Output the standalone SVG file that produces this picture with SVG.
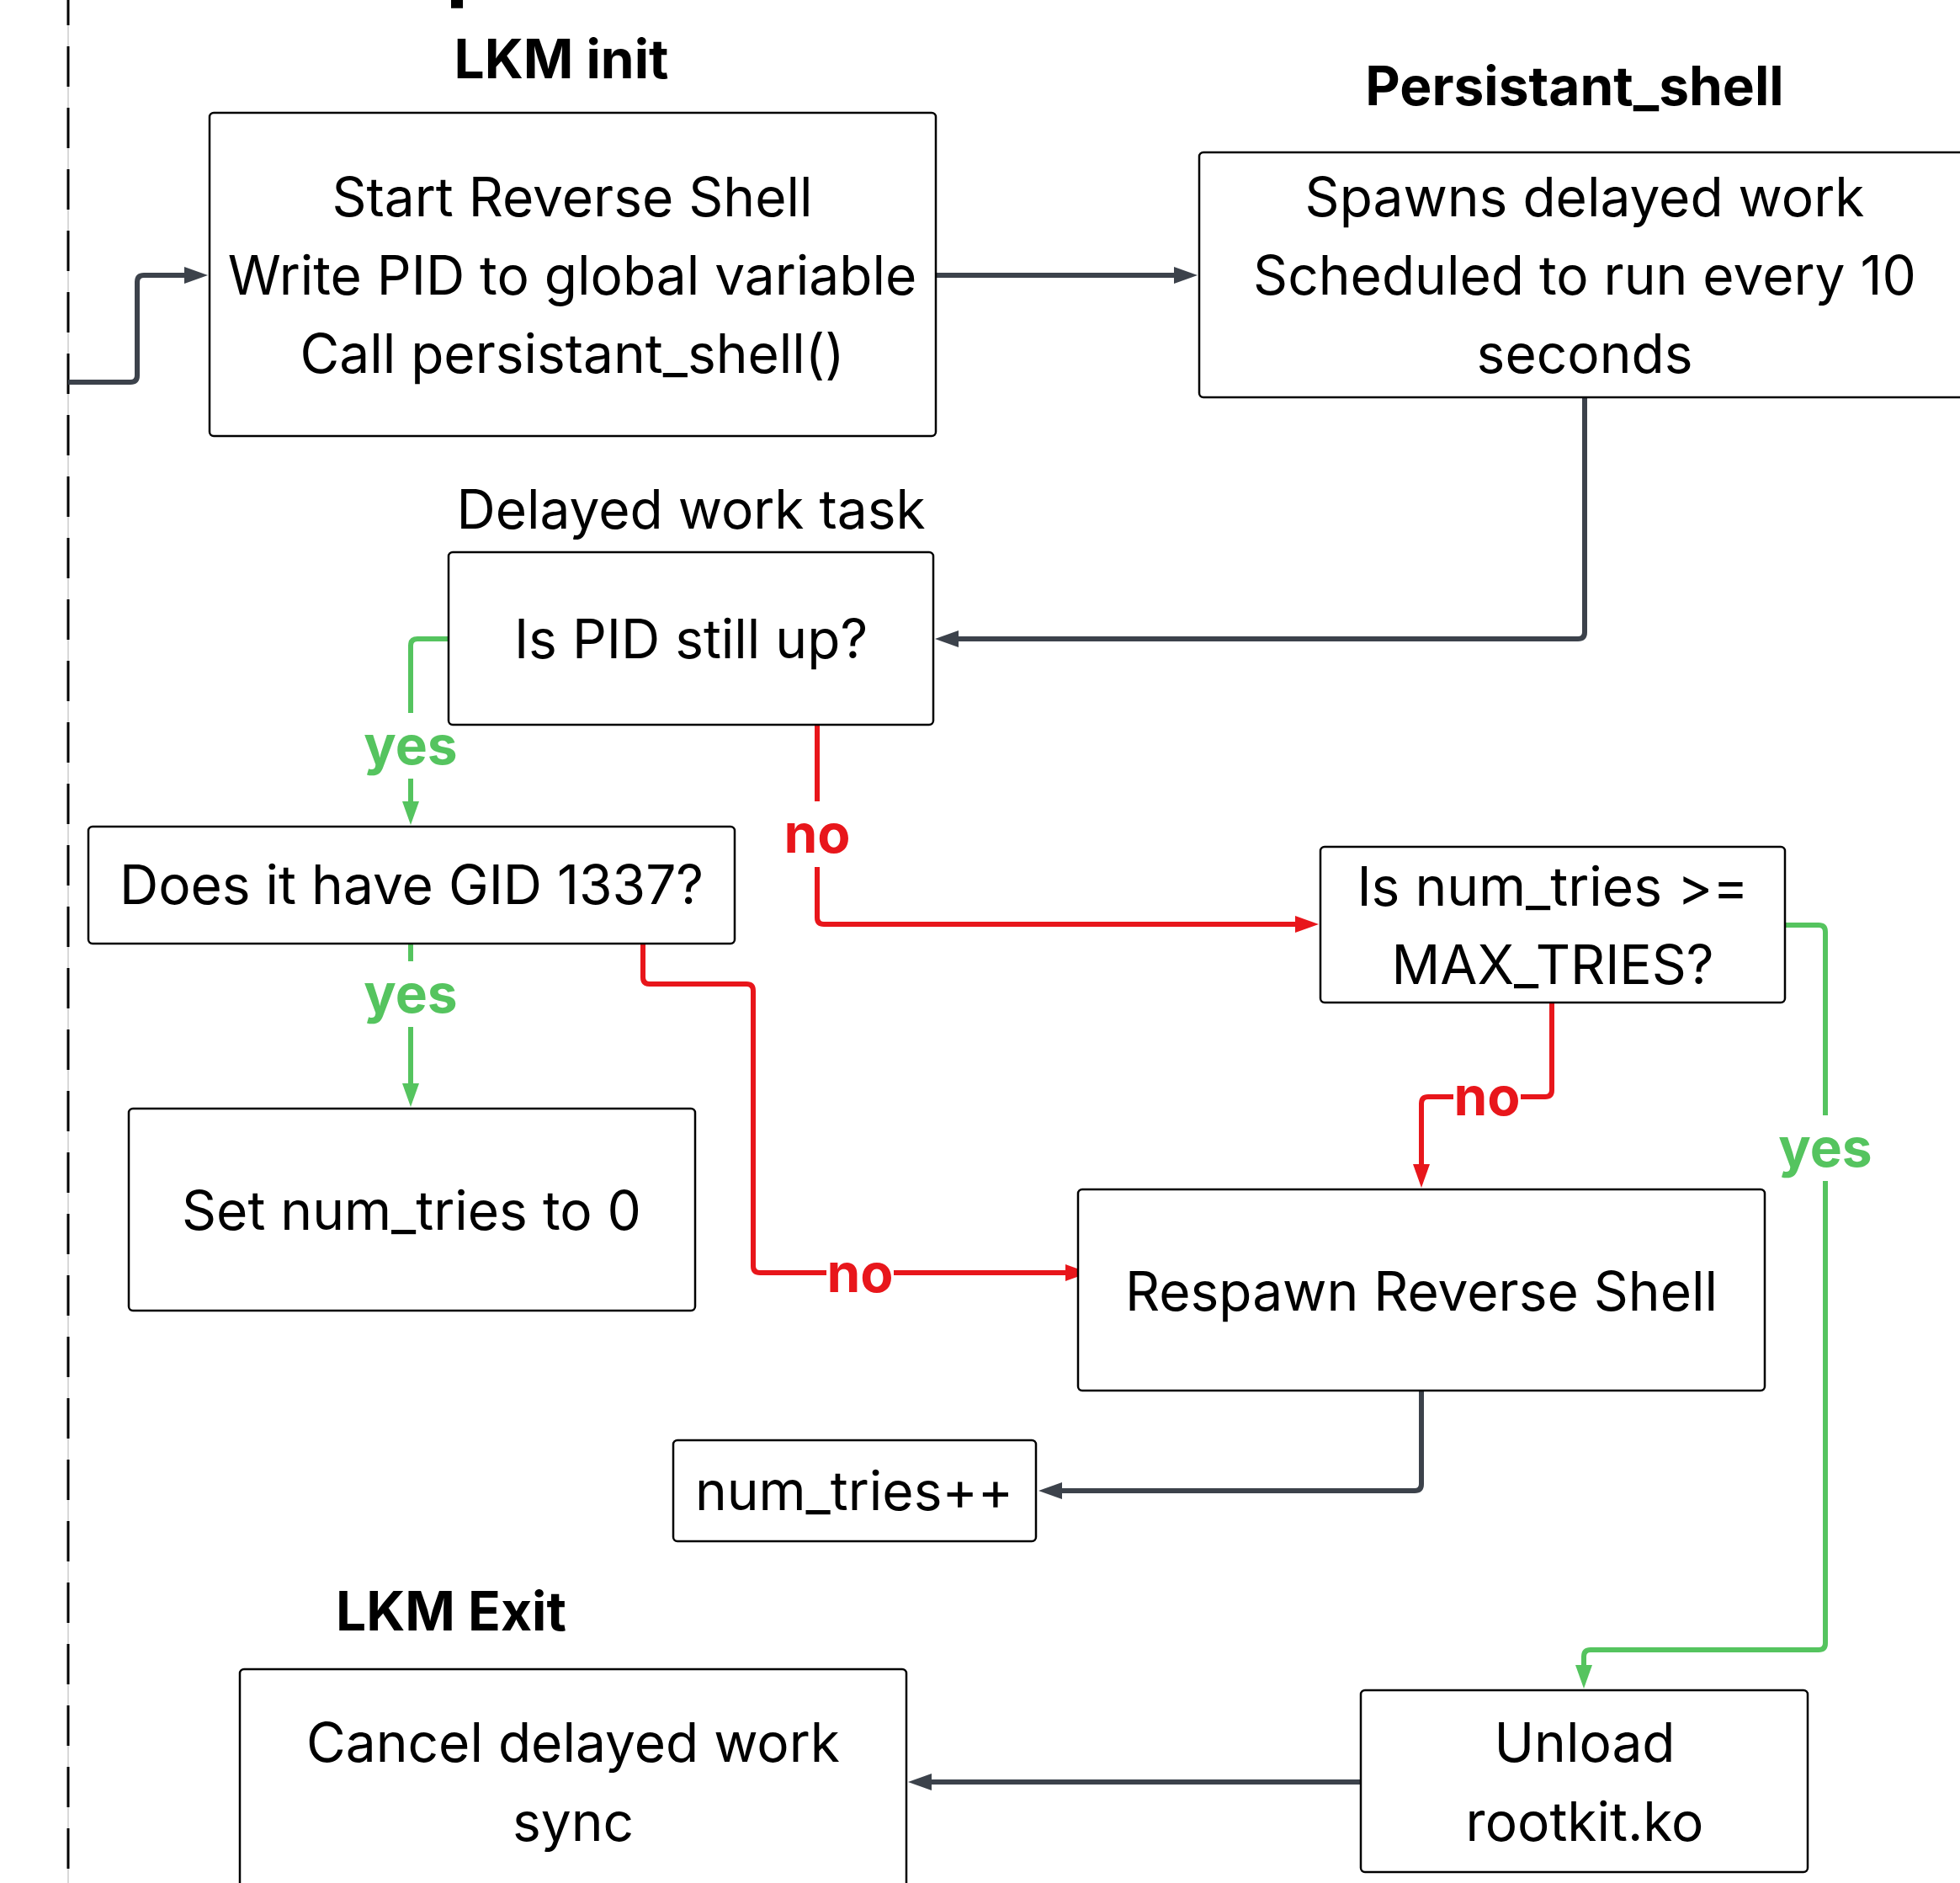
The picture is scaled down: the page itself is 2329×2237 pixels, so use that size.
<svg xmlns="http://www.w3.org/2000/svg" width="2329" height="2237" viewBox="0 0 2329 2237">
<style>
.box{fill:#fff;stroke:#000;stroke-width:2.5}
.t{font-family:Inter,"Noto Sans","Liberation Sans",sans-serif;font-size:64px;fill:#000;text-anchor:middle}
.h{font-family:Inter,"Noto Sans","Liberation Sans",sans-serif;font-size:64px;font-weight:700;fill:#000;text-anchor:middle}
.c{fill:none;stroke-width:6;stroke-linejoin:round}
.dk{stroke:#3c424b}
.rd{stroke:#e8161b}
.gr{stroke:#55c45f}
.lb{font-family:Inter,"Noto Sans","Liberation Sans",sans-serif;font-size:64px;font-weight:700;text-anchor:middle}
.bg{fill:#fff}
</style>
<defs>
<marker id="ad" markerUnits="userSpaceOnUse" markerWidth="30" markerHeight="20" refX="10" refY="10" orient="auto"><path d="M0,0 L28,10 L0,20 z" fill="#3c424b"/></marker>
<marker id="ar" markerUnits="userSpaceOnUse" markerWidth="30" markerHeight="20" refX="10" refY="10" orient="auto"><path d="M0,0 L28,10 L0,20 z" fill="#e8161b"/></marker>
<marker id="ag" markerUnits="userSpaceOnUse" markerWidth="30" markerHeight="20" refX="10" refY="10" orient="auto"><path d="M0,0 L28,10 L0,20 z" fill="#55c45f"/></marker>
</defs>
<rect width="2329" height="2237" fill="#fff"/>
<g id="swimlane">
<line x1="81" y1="0" x2="81" y2="2237" stroke="#d9d9d9" stroke-width="2"/>
<line x1="81" y1="0" x2="81" y2="2237" stroke="#000" stroke-width="3" stroke-dasharray="48 25" stroke-dashoffset="18"/>
</g>
<g id="headings">
<text class="h" x="530" y="-10" style="font-size:96px;text-anchor:start">p</text>
<text class="h" x="667" y="93">LKM init</text>
<text class="h" x="1871" y="125">Persistant_shell</text>
<text class="t" x="821" y="628">Delayed work task</text>
<text class="h" x="536" y="1937">LKM Exit</text>
</g>
<g id="connectors">
<path class="c dk" d="M81,454 H155 Q163,454 163,446 V335 Q163,327 171,327 H229" marker-end="url(#ad)"/>
<path class="c dk" d="M1112,327 H1405" marker-end="url(#ad)"/>
<path class="c dk" d="M1883,472 V751 Q1883,759 1875,759 H1129" marker-end="url(#ad)"/>
<path class="c gr" d="M533,759 H496 Q488,759 488,767 V962" marker-end="url(#ag)"/>
<path class="c rd" d="M971,861 V1090 Q971,1098 979,1098 H1549" marker-end="url(#ar)"/>
<path class="c gr" d="M488,1121 V1297" marker-end="url(#ag)"/>
<path class="c rd" d="M764,1121 V1161 Q764,1169 772,1169 H887 Q895,1169 895,1177 V1504 Q895,1512 903,1512 H1276" marker-end="url(#ar)"/>
<path class="c rd" d="M1844,1191 V1295 Q1844,1303 1836,1303 H1697 Q1689,1303 1689,1311 V1393" marker-end="url(#ar)"/>
<path class="c dk" d="M1689,1652 V1763 Q1689,1771 1681,1771 H1252" marker-end="url(#ad)"/>
<path class="c gr" d="M2121,1099 H2161 Q2169,1099 2169,1107 V1952 Q2169,1960 2161,1960 H1890 Q1882,1960 1882,1968 V1988" marker-end="url(#ag)"/>
<path class="c dk" d="M1617,2117 H1097" marker-end="url(#ad)"/>
<rect class="bg" x="448" y="847" width="80" height="78"/>
<text class="lb" x="488" y="908" fill="#55c45f">yes</text>
<rect class="bg" x="931" y="952" width="80" height="78"/>
<text class="lb" x="971" y="1013" fill="#e8161b">no</text>
<rect class="bg" x="448" y="1142" width="80" height="78"/>
<text class="lb" x="488" y="1203" fill="#55c45f">yes</text>
<rect class="bg" x="982" y="1474" width="80" height="78"/>
<text class="lb" x="1022" y="1535" fill="#e8161b">no</text>
<rect class="bg" x="1727" y="1264" width="80" height="78"/>
<text class="lb" x="1767" y="1325" fill="#e8161b">no</text>
<rect class="bg" x="2129" y="1325" width="80" height="78"/>
<text class="lb" x="2169" y="1386" fill="#55c45f">yes</text>
</g>
<g id="lkm-init">
<rect class="box" x="249" y="134" width="863" height="384" rx="5"/>
<text class="t" x="680" y="257">Start Reverse Shell</text>
<text class="t" x="680" y="350">Write PID to global variable</text>
<text class="t" x="680" y="443">Call persistant_shell()</text>
</g>
<g id="persistant-shell">
<rect class="box" x="1425" y="181" width="920" height="291" rx="5"/>
<text class="t" x="1883" y="257">Spawns delayed work</text>
<text class="t" x="1883" y="350">Scheduled to run every 10</text>
<text class="t" x="1883" y="443">seconds</text>
</g>
<g id="pid-up">
<rect class="box" x="533" y="656" width="576" height="205" rx="5"/>
<text class="t" x="821" y="782">Is PID still up?</text>
</g>
<g id="gid">
<rect class="box" x="105" y="982" width="768" height="139" rx="5"/>
<text class="t" x="489" y="1074">Does it have GID 1337?</text>
</g>
<g id="max-tries">
<rect class="box" x="1569" y="1006" width="552" height="185" rx="5"/>
<text class="t" x="1845" y="1076">Is num_tries &gt;=</text>
<text class="t" x="1845" y="1169">MAX_TRIES?</text>
</g>
<g id="reset">
<rect class="box" x="153" y="1317" width="673" height="240" rx="5"/>
<text class="t" x="489" y="1461">Set num_tries to 0</text>
</g>
<g id="respawn">
<rect class="box" x="1281" y="1413" width="816" height="239" rx="5"/>
<text class="t" x="1689" y="1557">Respawn Reverse Shell</text>
</g>
<g id="inc">
<rect class="box" x="800" y="1711" width="431" height="120" rx="5"/>
<text class="t" x="1015" y="1794">num_tries++</text>
</g>
<g id="lkm-exit">
<rect class="box" x="285" y="1983" width="792" height="290" rx="5"/>
<text class="t" x="681" y="2093">Cancel delayed work</text>
<text class="t" x="681" y="2187">sync</text>
</g>
<g id="unload">
<rect class="box" x="1617" y="2008" width="531" height="216" rx="5"/>
<text class="t" x="1883" y="2093">Unload</text>
<text class="t" x="1883" y="2187">rootkit.ko</text>
</g>
</svg>
